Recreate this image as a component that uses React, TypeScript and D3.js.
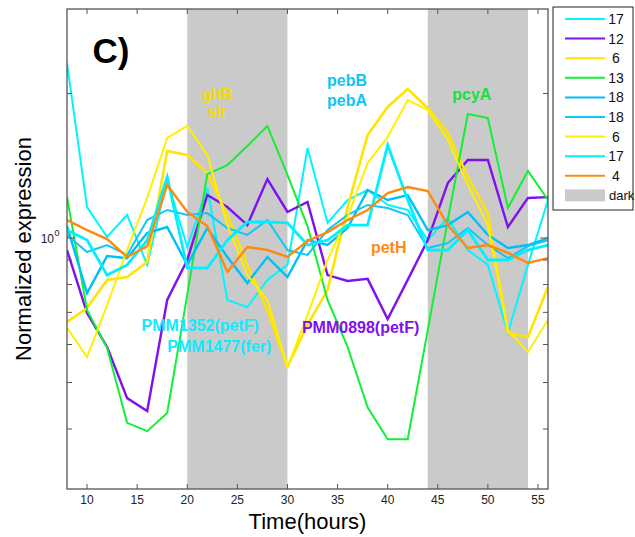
import React from 'react';
import * as d3 from 'd3';

// time points (hours)
const times = [8, 10, 12, 14, 16, 18, 20, 22, 24, 26, 28, 30, 32, 34, 36, 38, 40, 42, 44, 46, 48, 50, 52, 54, 56];

// normalized expression series
const cyanA = [2.316, 1.16, 1.005, 1.117, 0.879, 1.321, 0.958, 1.271, 0.743, 0.718, 0.818, 0.879, 1.54, 1.075, 1.2, 1.259, 1.172, 1.144, 0.99, 1.101, 0.944, 0.879, 0.634, 0.879, 1.2];
const purple = [0.944, 0.698, 0.593, 0.464, 0.436, 0.743, 0.9, 1.229, 1.16, 1.064, 1.327, 1.133, 1.189, 0.837, 0.814, 0.822, 0.678, 0.818, 0.99, 1.302, 1.454, 1.454, 1.054, 1.212, 1.217];
const yellowA = [0.668, 0.715, 0.818, 0.829, 0.891, 1.518, 1.489, 1.366, 1.117, 0.879, 0.708, 0.539, 0.659, 0.779, 1.16, 1.639, 1.875, 2.044, 1.866, 1.655, 1.34, 1.127, 0.634, 0.622, 0.791];
const green = [1.217, 0.708, 0.59, 0.412, 0.396, 0.432, 0.761, 1.359, 1.419, 1.555, 1.712, 1.353, 1.059, 0.743, 0.593, 0.444, 0.381, 0.381, 0.643, 1.09, 1.813, 1.778, 1.155, 1.379, 1.2];
const skyA = [1.059, 0.768, 0.917, 0.908, 1.024, 1.054, 0.879, 1.049, 0.913, 0.806, 0.913, 0.829, 0.99, 0.967, 1.049, 1.259, 1.2, 1.229, 1.039, 1.064, 1.133, 1.015, 0.953, 0.967, 1.0];
const skyB = [1.015, 0.935, 0.967, 0.922, 1.09, 1.144, 1.117, 1.127, 1.049, 1.015, 1.09, 0.944, 0.922, 1.039, 1.117, 1.172, 1.155, 1.117, 0.953, 0.976, 1.049, 0.967, 0.908, 0.962, 0.99];
const yellowB = [0.65, 0.565, 0.725, 0.944, 1.212, 1.616, 1.712, 1.489, 1.064, 0.837, 0.743, 0.539, 0.691, 0.9, 1.106, 1.433, 1.624, 1.939, 1.848, 1.601, 1.29, 1.064, 0.643, 0.579, 0.675];
const cyanB = [1.039, 0.99, 0.837, 0.879, 0.99, 1.34, 0.866, 0.866, 0.99, 1.08, 1.08, 1.075, 0.967, 0.99, 1.064, 1.064, 1.562, 1.2, 0.944, 0.944, 1.039, 0.9, 0.9, 0.944, 0.967];
const orange = [1.09, 1.039, 0.995, 0.913, 0.962, 1.29, 1.133, 1.059, 0.85, 0.958, 0.944, 0.913, 0.986, 1.029, 1.09, 1.144, 1.241, 1.277, 1.253, 1.064, 0.953, 0.967, 0.931, 0.887, 0.908];

const legendLabels = ['17', '12', '6', '13', '18', '18', '6', '17', '4'];
const darkPeriods = [[20, 30], [44, 54]];
const xTicks = [10, 15, 20, 25, 30, 35, 40, 45, 50, 55];
const yMinorTicks = [0.4, 0.5, 0.6, 0.7, 0.8, 0.9, 2];
const yMajorTicks = [1];

const seriesList = [
  { values: cyanA, color: '#00f6ff', width: 2 },
  { values: purple, color: '#7f10f0', width: 2.4 },
  { values: yellowA, color: '#ffe400', width: 2.6 },
  { values: green, color: '#12f036', width: 2 },
  { values: skyA, color: '#00c0f8', width: 2.4 },
  { values: skyB, color: '#10c8f8', width: 2 },
  { values: yellowB, color: '#fff000', width: 2 },
  { values: cyanB, color: '#00f0ff', width: 2.8 },
  { values: orange, color: '#ff8a10', width: 2.4 },
];

const annotations = [
  { text: 'gltB', x: 23, y: 1.939, color: '#f5dc00' },
  { text: 'sir', x: 23, y: 1.787, color: '#f5dc00' },
  { text: 'pebB', x: 35.95, y: 2.074, color: '#10c4f4' },
  { text: 'pebA', x: 35.95, y: 1.884, color: '#10c4f4' },
  { text: 'pcyA', x: 48.4, y: 1.939, color: '#14e23a' },
  { text: 'petH', x: 40.1, y: 0.931, color: '#ff8a10' },
  { text: 'PMM0898(petF)', x: 37.3, y: 0.634, color: '#7f10f0' },
  { text: 'PMM1352(petF)', x: 21.3, y: 0.64, color: '#10eaff' },
  { text: 'PMM1477(fer)', x: 23.2, y: 0.579, color: '#10eaff' },
];

const W = 635;
const H = 537;
const FONT = '"Liberation Sans", Arial, sans-serif';

export default function App() {
  const x = d3.scaleLinear().domain([8, 56]).range([67, 548]);
  const y = d3.scaleLog().domain([0.3, 3]).range([489, 9]);
  const line = d3
    .line<number>()
    .x((_, i) => x(times[i]))
    .y((d) => y(d));

  const [x0, x1] = x.range();
  const [yb, yt] = y.range();
  const axisColor = '#555';

  const legendX = 553;
  const legendY = 7;
  const rowH = 19.6;

  return (
    <svg
      width={W}
      height={H}
      style={{ position: 'absolute', left: 0, top: 0, background: '#fff' }}
      fontFamily={FONT}
    >
      <rect x={0} y={0} width={W} height={H} fill="#fff" />
      {/* dark bands */}
      {darkPeriods.map(([a, b], i) => (
        <rect key={i} x={x(a)} y={yt} width={x(b) - x(a)} height={yb - yt} fill="#cacaca" />
      ))}
      <defs>
        <clipPath id="clip">
          <rect x={x0} y={yt} width={x1 - x0} height={yb - yt} />
        </clipPath>
      </defs>
      {/* series */}
      <g clipPath="url(#clip)">
        {seriesList.map((s, i) => (
          <path
            key={i}
            d={line(s.values) || ''}
            fill="none"
            stroke={s.color}
            strokeWidth={s.width}
            strokeLinejoin="miter"
          />
        ))}
      </g>
      {/* annotations */}
      {annotations.map((a, i) => (
        <text
          key={i}
          x={x(a.x)}
          y={y(a.y)}
          fill={a.color}
          fontSize={16}
          fontWeight="bold"
          textAnchor="middle"
        >
          {a.text}
        </text>
      ))}
      <text x={111} y={63} fontSize={35} fontWeight="bold" textAnchor="middle" fill="#000">
        C)
      </text>
      {/* axes box */}
      <rect x={x0} y={yt} width={x1 - x0} height={yb - yt} fill="none" stroke={axisColor} strokeWidth={1.3} />
      {xTicks.map((t) => (
        <g key={t}>
          <line x1={x(t)} x2={x(t)} y1={yb} y2={yb - 5} stroke={axisColor} strokeWidth={1} />
          <line x1={x(t)} x2={x(t)} y1={yt} y2={yt + 5} stroke={axisColor} strokeWidth={1} />
          <text x={x(t)} y={504} fontSize={12} textAnchor="middle" fill="#222">
            {t}
          </text>
        </g>
      ))}
      {yMinorTicks.map((t) => (
        <g key={t}>
          <line x1={x0} x2={x0 + 5} y1={y(t)} y2={y(t)} stroke={axisColor} strokeWidth={1} />
          <line x1={x1} x2={x1 - 5} y1={y(t)} y2={y(t)} stroke={axisColor} strokeWidth={1} />
        </g>
      ))}
      {yMajorTicks.map((t) => (
        <g key={t}>
          <line x1={x0} x2={x0 + 8} y1={y(t)} y2={y(t)} stroke={axisColor} strokeWidth={1} />
          <line x1={x1} x2={x1 - 8} y1={y(t)} y2={y(t)} stroke={axisColor} strokeWidth={1} />
          <text x={54} y={y(t) + 5} fontSize={12} textAnchor="end" fill="#222">
            10
          </text>
          <text x={54.5} y={y(t) - 2} fontSize={9} textAnchor="start" fill="#222">
            0
          </text>
        </g>
      ))}
      {/* axis labels */}
      <text x={(x0 + x1) / 2} y={529} fontSize={22} textAnchor="middle" fill="#000">
        Time(hours)
      </text>
      <text
        transform={`translate(31, ${(yt + yb) / 2}) rotate(-90)`}
        fontSize={22}
        textAnchor="middle"
        fill="#000"
      >
        Normalized expression
      </text>
      {/* legend */}
      <rect x={legendX} y={legendY} width={80} height={203} fill="#fff" stroke="#222" strokeWidth={1} />
      {seriesList.map((s, i) => (
        <g key={i}>
          <line
            x1={565}
            x2={605}
            y1={legendY + 12 + i * rowH}
            y2={legendY + 12 + i * rowH}
            stroke={s.color}
            strokeWidth={2}
          />
          <text x={616} y={legendY + 17 + i * rowH} fontSize={14} textAnchor="middle" fill="#111">
            {legendLabels[i]}
          </text>
        </g>
      ))}
      <rect x={565} y={legendY + 12 + 9 * rowH - 6} width={40} height={12} fill="#cacaca" />
      <text x={609} y={legendY + 17 + 9 * rowH} fontSize={13} fill="#111">
        dark
      </text>
    </svg>
  );
}
